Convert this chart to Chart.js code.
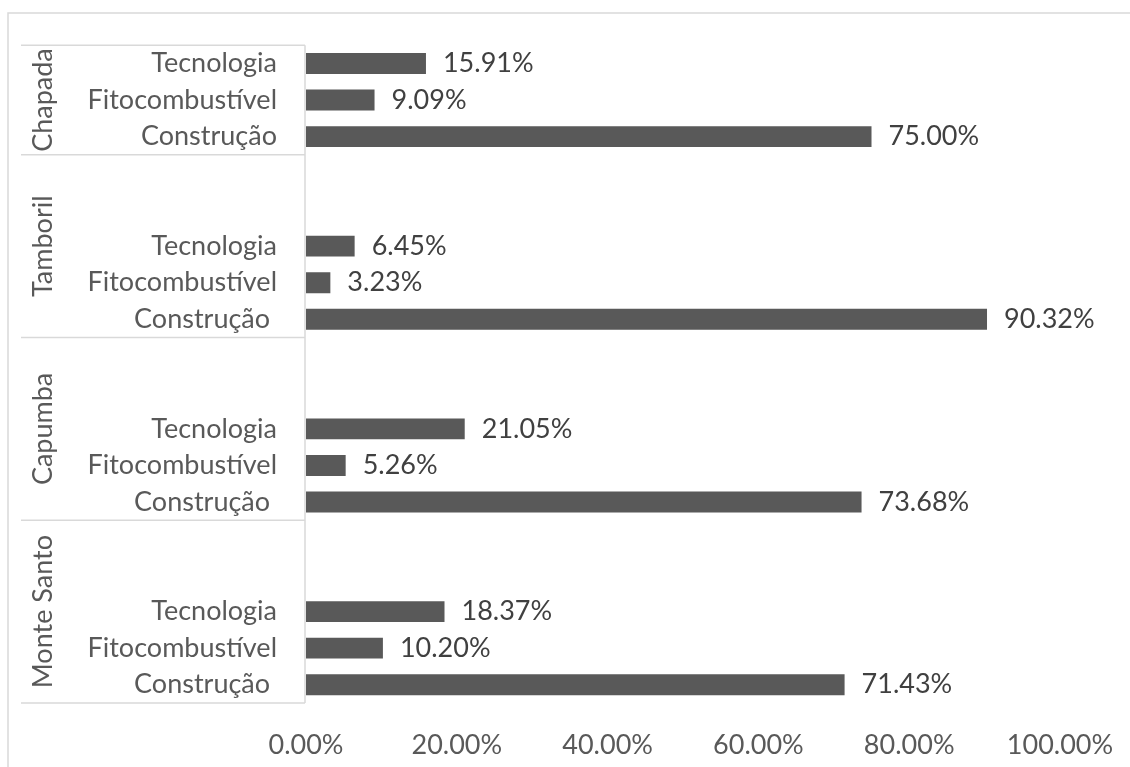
<!DOCTYPE html>
<html>
<head>
<meta charset="utf-8">
<script src="https://cdn.jsdelivr.net/npm/chart.js@4/dist/chart.umd.min.js"></script>
<style>
  html, body { margin: 0; padding: 0; background: #ffffff; }
  canvas { display: block; }
</style>
</head>
<body>
<canvas id="chart" width="1130" height="767"></canvas>
<script>
// Localities (outer category level), top to bottom
const groups = ['Chapada', 'Tamboril', 'Capumba', 'Monte Santo'];
// Uses (inner category level) as written in each locality's rows
const chapadaUses    = ['Tecnologia', 'Fitocombustível', 'Construção'];
const tamborilUses   = ['Tecnologia', 'Fitocombustível', 'Construção '];
const capumbaUses    = ['Tecnologia', 'Fitocombustível', 'Construção '];
const monteSantoUses = ['Tecnologia', 'Fitocombustível', 'Construção '];
// Empty rows above each locality's uses
const blankRows = [0, 2, 2, 2];
// Share of citations (%)
const chapadaValues    = [15.91, 9.09, 75.00];
const tamborilValues   = [6.45, 3.23, 90.32];
const capumbaValues    = [21.05, 5.26, 73.68];
const monteSantoValues = [18.37, 10.20, 71.43];
// Value axis ticks
const xTicks = [0, 20, 40, 60, 80, 100];

const usesByGroup = [chapadaUses, tamborilUses, capumbaUses, monteSantoUses];
const valuesByGroup = [chapadaValues, tamborilValues, capumbaValues, monteSantoValues];

// Flatten into one category axis, remembering where each locality starts and ends
const labels = [];
const values = [];
const spans = [];
groups.forEach((g, i) => {
  const start = labels.length;
  for (let k = 0; k < blankRows[i]; k++) { labels.push(''); values.push(null); }
  usesByGroup[i].forEach((u, j) => { labels.push(u); values.push(valuesByGroup[i][j]); });
  spans.push({ name: g, start, end: labels.length - 1 });
});

const FONT = 'Lato, "Open Sans", sans-serif';
const FONT_SIZE = 27;
const AXIS_COLOR = '#595959';
const LINE_COLOR = '#d9d9d9';

const decorations = {
  id: 'decorations',
  beforeDraw(chart) {
    const ctx = chart.ctx;
    ctx.save();
    ctx.fillStyle = '#ffffff';
    ctx.fillRect(0, 0, chart.width, chart.height);
    // outer frame (top and left edges)
    ctx.strokeStyle = LINE_COLOR;
    ctx.lineWidth = 1.5;
    ctx.beginPath();
    ctx.moveTo(8, chart.height);
    ctx.lineTo(8, 13);
    ctx.lineTo(chart.width, 13);
    ctx.stroke();
    ctx.restore();
  },
  afterDraw(chart) {
    const ctx = chart.ctx;
    const y = chart.scales.y;
    const area = chart.chartArea;
    const slot = y.getPixelForValue(1) - y.getPixelForValue(0);
    ctx.save();
    // locality brackets
    ctx.strokeStyle = LINE_COLOR;
    ctx.lineWidth = 1.5;
    ctx.beginPath();
    ctx.moveTo(area.left - 1, area.top);
    ctx.lineTo(area.left - 1, area.bottom);
    spans.forEach(s => {
      const top = y.getPixelForValue(s.start) - slot / 2;
      const bottom = y.getPixelForValue(s.end) + slot / 2;
      ctx.moveTo(21, top); ctx.lineTo(area.left - 1, top);
      ctx.moveTo(21, bottom); ctx.lineTo(area.left - 1, bottom);
    });
    ctx.stroke();
    // locality names, rotated
    ctx.fillStyle = AXIS_COLOR;
    ctx.font = FONT_SIZE + 'px ' + FONT;
    ctx.textAlign = 'center';
    ctx.textBaseline = 'middle';
    spans.forEach(s => {
      const top = y.getPixelForValue(s.start) - slot / 2;
      const bottom = y.getPixelForValue(s.end) + slot / 2;
      ctx.save();
      ctx.translate(43, (top + bottom) / 2);
      ctx.rotate(-Math.PI / 2);
      ctx.fillText(s.name, 0, 0);
      ctx.restore();
    });
    // value labels at bar ends
    const meta = chart.getDatasetMeta(0);
    ctx.fillStyle = '#404040';
    ctx.textAlign = 'left';
    meta.data.forEach((bar, i) => {
      const v = values[i];
      if (v === null || v === undefined) return;
      ctx.fillText(v.toFixed(2) + '%', bar.x + 17, bar.y);
    });
    ctx.restore();
  }
};

new Chart(document.getElementById('chart'), {
  type: 'bar',
  data: {
    labels,
    datasets: [{
      data: values,
      backgroundColor: '#595959',
      borderWidth: 0,
      barPercentage: 0.57,
      categoryPercentage: 1
    }]
  },
  options: {
    indexAxis: 'y',
    responsive: false,
    animation: false,
    layout: { padding: { top: 42, right: 70, left: 0, bottom: 0 } },
    plugins: { legend: { display: false }, tooltip: { enabled: false } },
    scales: {
      x: {
        min: 0,
        max: 100,
        afterBuildTicks(scale) { scale.ticks = xTicks.map(v => ({ value: v })); },
        afterFit(scale) {
          scale.height = 64;
          scale.paddingLeft = 0;
          scale.paddingRight = 0;
        },
        grid: { display: false, drawTicks: false },
        border: { display: false },
        ticks: {
          padding: 26,
          color: AXIS_COLOR,
          font: { family: FONT, size: FONT_SIZE },
          callback: v => v.toFixed(2) + '%'
        }
      },
      y: {
        afterFit(scale) { scale.width = 306; },
        grid: { display: false, drawTicks: false },
        border: { display: false },
        ticks: {
          padding: 29,
          autoSkip: false,
          color: AXIS_COLOR,
          font: { family: FONT, size: FONT_SIZE }
        }
      }
    }
  },
  plugins: [decorations]
});
</script>
</body>
</html>
